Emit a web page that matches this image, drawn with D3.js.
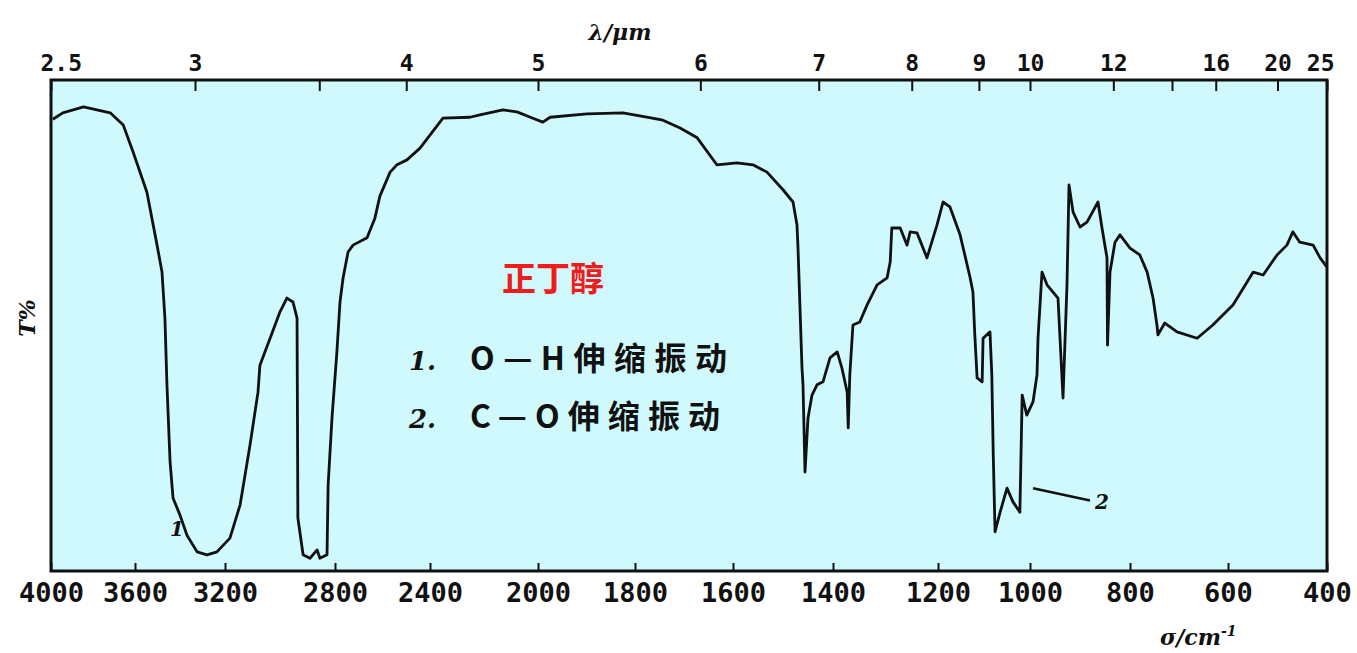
<!DOCTYPE html>
<html>
<head>
<meta charset="utf-8">
<script src="https://cdn.jsdelivr.net/npm/d3@7"></script>
<style>
  body { margin: 0; background: #fff; }
  svg { display: block; }
</style>
</head>
<body>
<script>
'use strict';

// spectrum: wavenumber (cm-1) and transmittance (%)
const wavenumber = [3991, 3944, 3845, 3718, 3656, 3609, 3547, 3502, 3480, 3467, 3458, 3444, 3431, 3400, 3369, 3324,
  3280, 3236, 3182, 3145, 3109, 3080, 3073, 3036, 3000, 2975, 2953, 2938, 2937, 2935, 2916, 2891, 2865, 2855, 2829,
  2825, 2811, 2792, 2779, 2766, 2745, 2724, 2665, 2632, 2611, 2568, 2539, 2497, 2442, 2352, 2252, 2215, 2130, 2078,
  2019, 1990, 1975, 1899, 1825, 1776, 1743, 1708, 1673, 1633, 1592, 1560, 1532, 1500, 1480, 1472, 1470, 1462, 1460,
  1456, 1450, 1442, 1432, 1420, 1406, 1392, 1383, 1373, 1371, 1368, 1362, 1349, 1335, 1316, 1297, 1291, 1288, 1272,
  1259, 1253, 1240, 1221, 1202, 1189, 1174, 1152, 1130, 1124, 1120, 1115, 1104, 1102, 1087, 1083, 1080, 1076, 1065,
  1050, 1037, 1022, 1017, 1007, 994, 986, 984, 976, 966, 954, 944, 934, 926, 922, 914, 900, 886, 864, 856, 846, 845,
  840, 830, 820, 800, 780, 765, 753, 745, 743, 729, 704, 663, 631, 590, 549, 529, 501, 481, 469, 455, 428, 414, 400];
const transmittance = [92.0, 93.3, 94.5, 93.3, 90.8, 85.3, 77.1, 66.3, 60.8, 51.4, 37.8, 22.0, 14.7, 11.2, 7.1, 3.7,
  3.1, 3.7, 6.5, 13.3, 25.5, 36.3, 41.8, 47.3, 52.7, 55.5, 54.7, 51.4, 37.8, 10.6, 3.1, 2.4, 4.1, 2.4, 3.1,
  17.3, 31.0, 44.5, 54.7, 59.6, 64.9, 66.3, 67.8, 71.8, 76.3, 81.2, 82.7, 83.7, 86.1, 92.2, 92.4, 92.9, 93.9, 93.5,
  92.2, 91.4, 92.4, 93.1, 93.3, 92.4, 91.8, 90.2, 88.2, 82.7, 83.1, 82.7, 81.2, 77.6, 75.1, 70.4, 65.7, 41.2, 37.8,
  20.0, 31.0, 35.7, 37.8, 38.4, 43.3, 44.5, 41.2, 36.3, 29.0, 39.8, 50.0, 50.6, 54.1, 58.2, 59.6, 62.9, 69.8, 69.8,
  66.3, 69.0, 68.8, 63.7, 70.4, 75.1, 74.1, 68.4, 59.6, 56.7, 48.0, 39.2, 38.4, 47.3, 48.6, 39.8, 24.1, 7.8, 11.8,
  16.7, 13.9, 11.8, 35.7, 31.6, 34.3, 39.8, 47.3, 60.8, 58.2, 56.7, 55.5, 35.1, 58.2, 78.6, 73.1, 70.0, 71.0, 75.1, 69.8, 63.7, 45.9,
  60.8, 66.9, 68.4, 65.7, 64.3, 60.8, 55.5, 50.0, 48.0, 50.4, 48.6, 47.3, 50.0, 54.1, 60.8, 60.2, 64.3, 66.3, 69.0, 66.9, 66.3, 63.7, 61.8];

const sigmaTicks = [4000, 3600, 3200, 2800, 2400, 2000, 1800, 1600, 1400, 1200, 1000, 800, 600, 400];
const lambdaTicks = [2.5, 3, 3.5, 4, 5, 6, 7, 8, 9, 10, 12, 14, 16, 20, 25];
const lambdaLabels = ['2.5', '3', '', '4', '5', '6', '7', '8', '9', '10', '12', '', '16', '20', '25'];

const compound = '正丁醇';
const noteNumbers = ['1.', '2.'];
const noteTexts = ['O—H伸缩振动', 'C—O伸缩振动'];

(function() {
  let width = 1357;
  let height = 653;

  let svg = d3.select('body').append('svg')
    .attr('width', width)
    .attr('height', height);

  // the scanned axis is not evenly spaced, so calibrate it tick by tick
  let x = d3.scaleLinear()
    .domain(sigmaTicks)
    .range([51, 135, 225, 335, 430, 538, 635, 733, 833, 938, 1030, 1130, 1228, 1327]);
  let y = d3.scaleLinear().domain([0, 100]).range([570, 80]);

  // wavelength axis on top: lambda(um) = 10000 / sigma
  let xTop = d3.scaleLinear()
    .domain(lambdaTicks)
    .range(lambdaTicks.map(l => x(1e4 / l)));

  svg.append('rect')
    .attr('x', x(4000))
    .attr('y', y(100))
    .attr('width', x(400) - x(4000))
    .attr('height', y(0) - y(100) + 1)
    .attr('fill', '#cff9fc')
    .attr('stroke', '#111')
    .attr('stroke-width', 3);

  let bottom = svg.append('g')
    .attr('transform', 'translate(0,' + (y(0) + 1) + ')')
    .call(d3.axisBottom(x).tickValues(sigmaTicks).tickFormat(d => String(d))
      .tickSizeInner(-8).tickSizeOuter(0).tickPadding(12));
  bottom.select('.domain').remove();
  bottom.selectAll('line').attr('stroke', '#111').attr('stroke-width', 2);
  bottom.selectAll('text')
    .attr('fill', '#111')
    .style('font-family', '"DejaVu Sans Mono", monospace')
    .style('font-weight', 'bold')
    .style('font-size', '27px');

  let top = svg.append('g')
    .attr('transform', 'translate(0,' + y(100) + ')')
    .call(d3.axisTop(xTop).tickValues(lambdaTicks).tickFormat((d, i) => lambdaLabels[i])
      .tickSizeInner(-11).tickSizeOuter(0).tickPadding(9));
  top.select('.domain').remove();
  top.selectAll('line').attr('stroke', '#111').attr('stroke-width', 2);
  top.selectAll('text')
    .attr('fill', '#111')
    .style('font-family', '"DejaVu Sans Mono", monospace')
    .style('font-weight', 'bold')
    .style('font-size', '23px');
  top.selectAll('text').filter(d => d === 2.5).attr('text-anchor', 'start').attr('x', -11);
  top.selectAll('text').filter(d => d === 25).attr('text-anchor', 'end').attr('x', 7);

  // spectrum
  let points = wavenumber.map((w, i) => [w, transmittance[i]]);
  let line = d3.line()
    .x(d => x(d[0]))
    .y(d => y(d[1]));
  svg.append('path')
    .datum(points)
    .attr('d', line)
    .attr('fill', 'none')
    .attr('stroke', '#111')
    .attr('stroke-width', 2.8)
    .attr('stroke-linejoin', 'round');

  // axis titles
  let labelFont = 'font-family: "DejaVu Serif", serif; font-weight: bold; font-style: italic; font-size: 22px;';
  svg.append('text')
    .attr('x', 620)
    .attr('y', 40)
    .attr('text-anchor', 'middle')
    .attr('style', labelFont)
    .attr('fill', '#111')
    .text('λ/μm');

  let sig = svg.append('text')
    .attr('x', 1160)
    .attr('y', 645)
    .attr('style', labelFont)
    .attr('fill', '#111');
  sig.append('tspan').text('σ/cm');
  sig.append('tspan').attr('dy', -9).style('font-size', '14px').text('-1');

  svg.append('text')
    .attr('transform', 'translate(35,318)rotate(-90)')
    .attr('text-anchor', 'middle')
    .attr('style', labelFont)
    .attr('fill', '#111')
    .text('T%');

  // compound name and band notes
  svg.append('text')
    .attr('x', 553)
    .attr('y', 291)
    .attr('text-anchor', 'middle')
    .style('font-family', '"Noto Sans CJK SC", sans-serif')
    .style('font-weight', 'bold')
    .style('font-size', '34px')
    .attr('fill', '#ee1c1c')
    .text(compound);

  noteTexts.forEach((t, i) => {
    let base = 370 + i * 58;
    svg.append('text')
      .attr('x', 409)
      .attr('y', base)
      .attr('style', labelFont + 'font-size: 26px;')
      .attr('fill', '#111')
      .text(noteNumbers[i]);
    svg.append('text')
      .attr('x', 470)
      .attr('y', base)
      .attr('textLength', i === 0 ? 257 : 250)
      .style('font-family', '"Noto Sans CJK SC", sans-serif')
      .style('font-weight', 'bold')
      .style('font-size', '32px')
      .attr('fill', '#111')
      .text(t);
  });

  // band markers 1 and 2
  svg.append('text')
    .attr('x', x(3445))
    .attr('y', y(7))
    .attr('style', labelFont + 'font-size: 20px;')
    .attr('fill', '#111')
    .text('1');

  svg.append('line')
    .attr('x1', x(994)).attr('y1', y(16.7))
    .attr('x2', x(880)).attr('y2', y(14.2))
    .attr('stroke', '#111')
    .attr('stroke-width', 2.5);
  svg.append('text')
    .attr('x', x(870))
    .attr('y', y(12.5))
    .attr('style', labelFont + 'font-size: 20px;')
    .attr('fill', '#111')
    .text('2');
})();
</script>
</body>
</html>
